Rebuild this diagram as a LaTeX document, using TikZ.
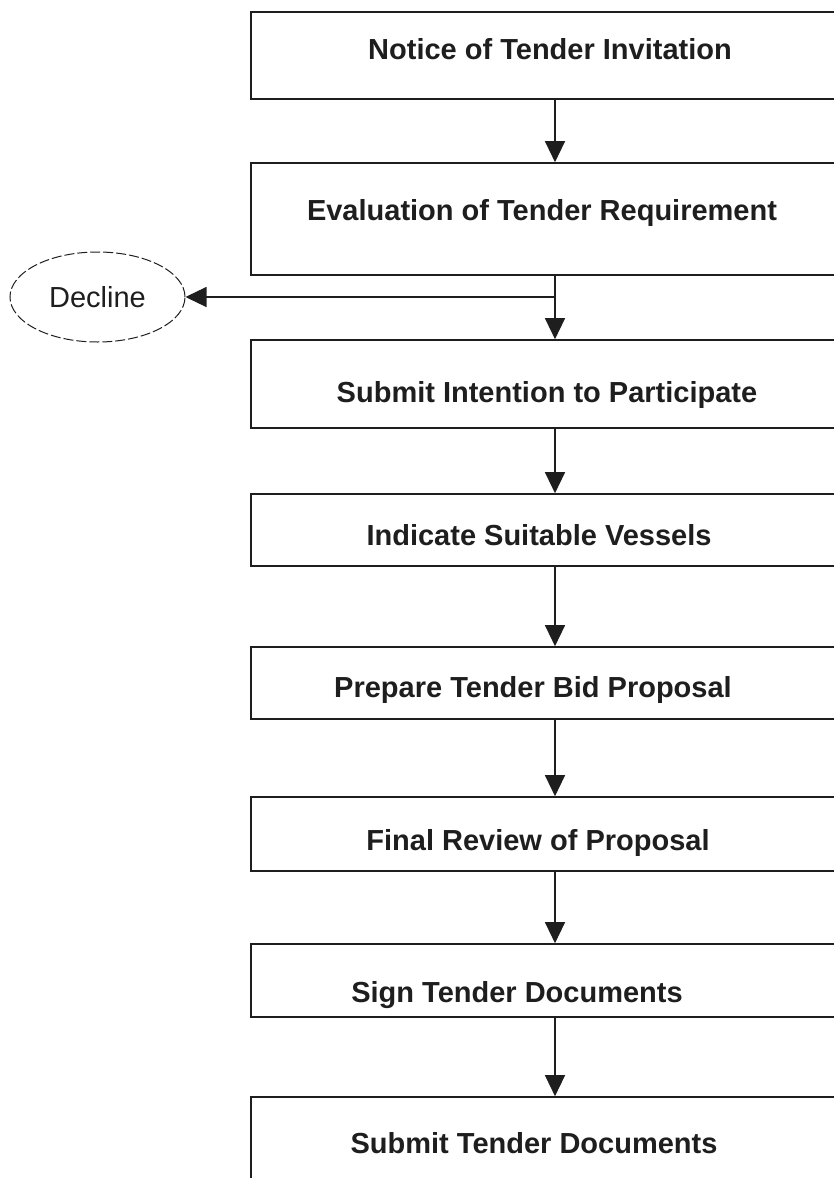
\documentclass[tikz,border=0pt]{standalone}
\usepackage{fontspec}
\setmainfont{Liberation Sans}
\usetikzlibrary{arrows.meta,shapes.geometric}
\definecolor{ink}{HTML}{1E1E1E}
\tikzset{
  stepbox/.style={draw=ink, line width=1.6pt, rectangle, minimum width=608pt, inner sep=0pt},
  steplabel/.style={anchor=base, inner sep=0pt, text=ink, font=\fontsize{29}{34}\selectfont\bfseries},
  flow/.style={draw=ink, line width=1.2pt, -{Triangle[width=20pt,length=21pt]}},
  declinenode/.style={ellipse, draw=ink, line width=1pt, dash pattern=on 10pt off 3pt,
    minimum width=175pt, minimum height=90pt, inner sep=0pt, text=ink,
    font=\fontsize{29}{34}\selectfont}
}
\begin{document}
\begin{tikzpicture}[x=1pt, y=-1pt]
  \useasboundingbox (0,0) rectangle (834,1178);
  \clip (0,0) rectangle (834,1178);

  % process boxes (centred on the main flow line x = 555)
  \node[stepbox, minimum height=87pt]  (b1) at (555,55.5)  {};
  \node[stepbox, minimum height=112pt] (b2) at (555,219)   {};
  \node[stepbox, minimum height=88pt]  (b3) at (555,384)   {};
  \node[stepbox, minimum height=72pt]  (b4) at (555,530)   {};
  \node[stepbox, minimum height=72pt]  (b5) at (555,683)   {};
  \node[stepbox, minimum height=74pt]  (b6) at (555,834)   {};
  \node[stepbox, minimum height=73pt]  (b7) at (555,980.5) {};
  \node[stepbox, minimum height=120pt] (b8) at (555,1157)  {};

  % box texts
  \node[steplabel] (t1) at (550,59)   {Notice of Tender Invitation};
  \node[steplabel] (t2) at (542,220)  {Evaluation of Tender Requirement};
  \node[steplabel] (t3) at (547,402)  {Submit Intention to Participate};
  \node[steplabel] (t4) at (539,545)  {Indicate Suitable Vessels};
  \node[steplabel] (t5) at (533,697)  {Prepare Tender Bid Proposal};
  \node[steplabel] (t6) at (538,850)  {Final Review of Proposal};
  \node[steplabel] (t7) at (517,1002) {Sign Tender Documents};
  \node[steplabel] (t8) at (534,1153) {Submit Tender Documents};

  % decline outcome
  \node[declinenode] (dec) at (97.5,297) {Decline};

  % connectors
  \draw[flow] (b1.south) -- (b2.north);
  \coordinate (split) at (555,297);
  \draw[draw=ink, line width=1.2pt] (b2.south) -- (split);
  \draw[flow] (split) -- (b3.north);
  \draw[flow] (split) -- (dec.east);
  \draw[flow] (b3.south) -- (b4.north);
  \draw[flow] (b4.south) -- (b5.north);
  \draw[flow] (b5.south) -- (b6.north);
  \draw[flow] (b6.south) -- (b7.north);
  \draw[flow] (b7.south) -- (b8.north);
\end{tikzpicture}
\end{document}
